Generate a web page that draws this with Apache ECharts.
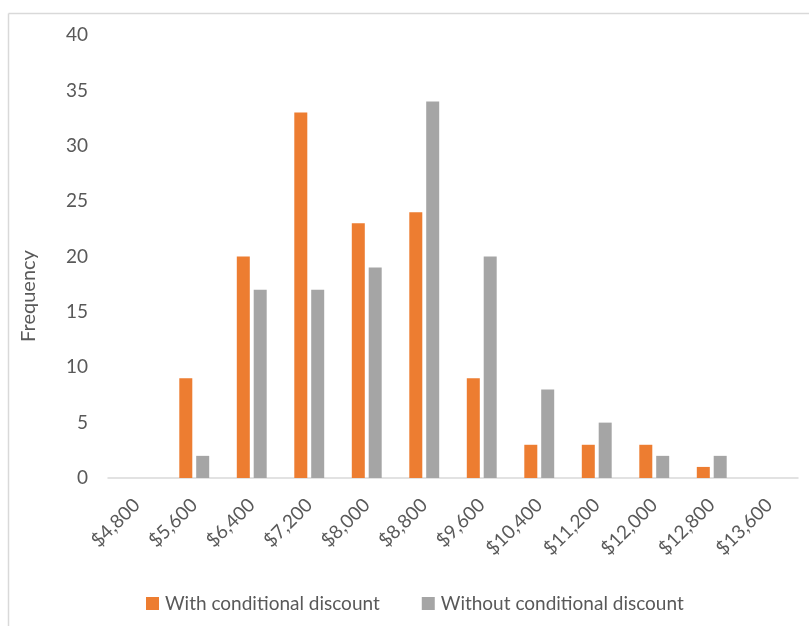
<!DOCTYPE html>
<html>
<head>
<meta charset="utf-8">
<script src="https://cdn.jsdelivr.net/npm/echarts@6/dist/echarts.min.js"></script>
<style>
  html, body { margin: 0; padding: 0; background: #fff; }
  #chart { width: 809px; height: 626px; }
</style>
</head>
<body>
<div id="chart"></div>
<script>
// Price bins (upper edge of each bin)
const categories = ['$4,800', '$5,600', '$6,400', '$7,200', '$8,000', '$8,800',
  '$9,600', '$10,400', '$11,200', '$12,000', '$12,800', '$13,600'];

// Frequency counts per bin
const withDiscount    = [0, 9, 20, 33, 23, 24, 9, 3, 3, 3, 1, 0];
const withoutDiscount = [0, 2, 17, 17, 19, 34, 20, 8, 5, 2, 2, 0];

const seriesNames = ['With conditional discount', 'Without conditional discount'];
const yTicks = { min: 0, max: 40, interval: 5 };

const FONT = 'Lato';
const TEXT = '#595959';

const chart = echarts.init(document.getElementById('chart'), null, { renderer: 'canvas' });

chart.setOption({
  animation: false,
  backgroundColor: '#ffffff',
  color: ['#ED7D31', '#A5A5A5'],
  textStyle: { fontFamily: FONT, color: TEXT },
  grid: { left: 108, right: 11, top: 35, bottom: 148, containLabel: false },
  legend: {
    data: seriesNames,
    left: 141,
    top: 589,
    itemWidth: 13,
    itemHeight: 13,
    itemGap: 42,
    icon: 'rect',
    textStyle: { fontFamily: FONT, fontSize: 19, color: TEXT, padding: [0, 0, 0, 1] }
  },
  xAxis: {
    type: 'category',
    data: categories,
    axisLine: { show: true, lineStyle: { color: '#D9D9D9', width: 1.5 } },
    axisTick: { show: false },
    axisLabel: {
      rotate: 45,
      margin: 24,
      interval: 0,
      fontFamily: FONT,
      fontSize: 19,
      color: TEXT
    },
    splitLine: { show: false }
  },
  yAxis: {
    type: 'value',
    min: yTicks.min,
    max: yTicks.max,
    interval: yTicks.interval,
    axisLine: { show: false },
    axisTick: { show: false },
    splitLine: { show: false },
    axisLabel: { margin: 20, fontFamily: FONT, fontSize: 19, color: TEXT }
  },
  series: [
    {
      name: seriesNames[0],
      type: 'bar',
      data: withDiscount,
      barWidth: 13,
      barGap: '30%',
      itemStyle: { color: '#ED7D31' }
    },
    {
      name: seriesNames[1],
      type: 'bar',
      data: withoutDiscount,
      barWidth: 13,
      barGap: '30%',
      itemStyle: { color: '#A5A5A5' }
    }
  ],
  graphic: [
    // chart area frame (top and left edges)
    { type: 'line', shape: { x1: 8.5, y1: 13.5, x2: 809, y2: 13.5 },
      style: { stroke: '#D9D9D9', lineWidth: 1.5 }, silent: true },
    { type: 'line', shape: { x1: 8.5, y1: 13.5, x2: 8.5, y2: 626 },
      style: { stroke: '#D9D9D9', lineWidth: 1.5 }, silent: true },
    // y-axis title
    { type: 'text', x: 19, y: 296, rotation: Math.PI / 2,
      style: { text: 'Frequency', fontFamily: FONT, fontSize: 20, fill: TEXT,
               align: 'center', verticalAlign: 'top' } }
  ]
});
</script>
</body>
</html>
